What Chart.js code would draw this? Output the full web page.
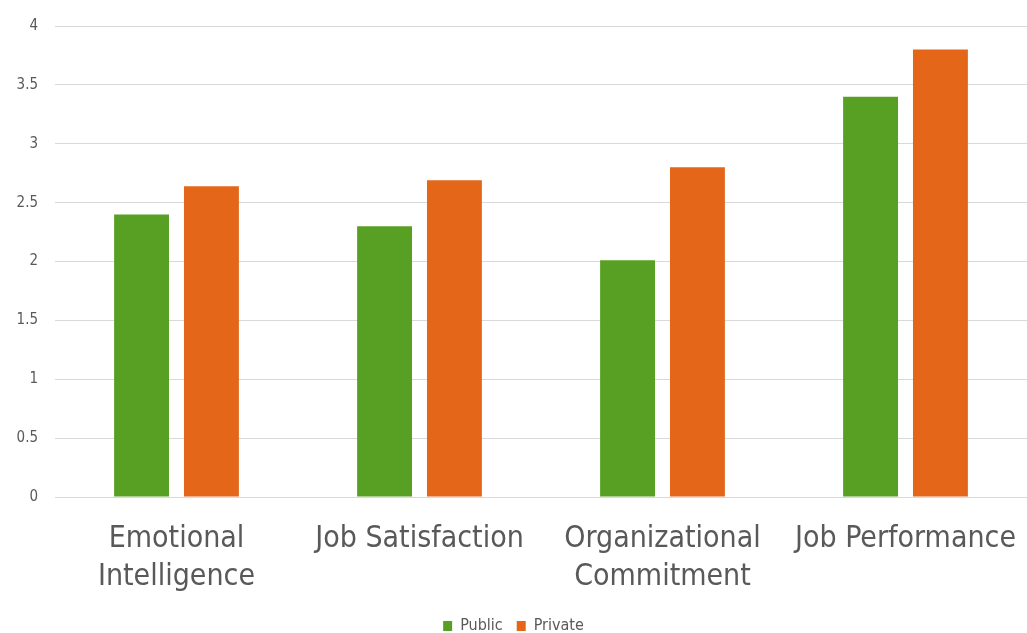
<!DOCTYPE html>
<html>
<head>
<meta charset="utf-8">
<script src="https://cdn.jsdelivr.net/npm/chart.js@4"></script>
<style>
  html, body { margin: 0; padding: 0; background: #fff; }
  #wrap { width: 1027px; height: 633px; }
</style>
</head>
<body>
<div id="wrap"><canvas id="sectorChart" width="1027" height="633"></canvas></div>
<script>
// Kategoriat ja sarjat
const categories = [
    ['Emotional', 'Intelligence'],
    'Job Satisfaction',
    ['Organizational', 'Commitment'],
    'Job Performance'
];
const publicValues = [2.40, 2.30, 2.01, 3.40];
const privateValues = [2.64, 2.69, 2.80, 3.80];
const yTicks = [0, 0.5, 1, 1.5, 2, 2.5, 3, 3.5, 4];

const labelFont = 'DejaVu Sans Condensed, DejaVu Sans, sans-serif';

const ctx = document.getElementById('sectorChart').getContext('2d');
const sectorChart = new Chart(ctx, {
    type: 'bar',
    data: {
        labels: categories,
        datasets: [{
            label: 'Public',
            data: publicValues,
            backgroundColor: '#58a023'
        }, {
            label: 'Private',
            data: privateValues,
            backgroundColor: '#e46719'
        }]
    },
    options: {
        responsive: false,
        animation: false,
        // negatiivinen alareuna painaa selitteen lähemmäs reunaa
        layout: { padding: { top: 8, right: 0, left: 0, bottom: -11 } },
        datasets: {
            bar: { barPercentage: 0.786, categoryPercentage: 0.575 }
        },
        scales: {
            x: {
                grid: { display: false },
                border: { display: false },
                afterFit: (scale) => {
                    scale.height = 107;
                    scale.paddingLeft = 0;
                    scale.paddingRight = 0;
                },
                ticks: {
                    color: '#595959',
                    font: { family: labelFont, size: 30, lineHeight: 1.27 },
                    padding: 15,
                    maxRotation: 0,
                    autoSkip: false
                }
            },
            y: {
                min: 0,
                max: 4,
                afterBuildTicks: (scale) => { scale.ticks = yTicks.map(v => ({ value: v })); },
                afterFit: (scale) => { scale.width = 55; },
                grid: { color: '#d9d9d9', lineWidth: 1, drawTicks: false },
                border: { display: false },
                ticks: {
                    color: '#595959',
                    font: { family: labelFont, size: 15 },
                    padding: 17,
                    callback: (v) => String(v)
                }
            }
        },
        plugins: {
            legend: {
                position: 'bottom',
                labels: {
                    color: '#595959',
                    font: { family: labelFont, size: 16 },
                    boxWidth: 9,
                    boxHeight: 10,
                    padding: 14
                }
            },
            tooltip: { enabled: false }
        }
    }
});
</script>
</body>
</html>
